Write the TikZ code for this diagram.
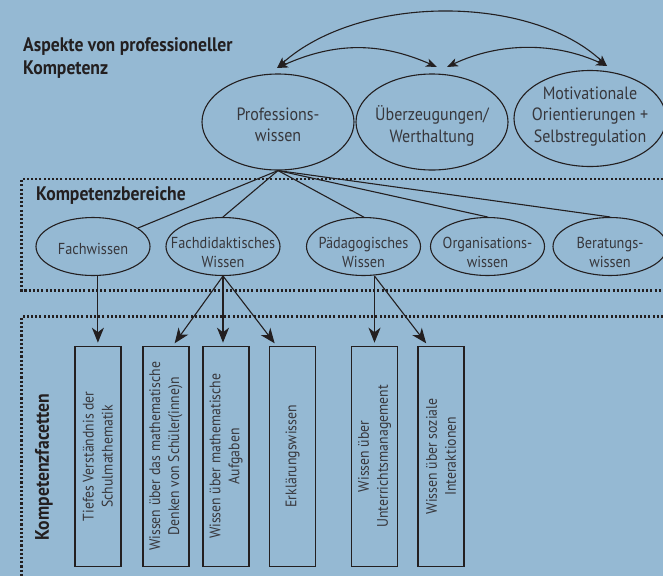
\documentclass[tikz,border=0pt]{standalone}
\usepackage{fontspec}
\setmainfont[FakeStretch=0.9]{PT Sans}
\usetikzlibrary{shapes.geometric,arrows.meta,calc}
\definecolor{bg}{RGB}{149,185,211}
\definecolor{ink}{RGB}{35,31,32}
\definecolor{txt}{RGB}{55,55,60}
\begin{document}
\begin{tikzpicture}[x=1pt,y=-1pt,
  ell/.style={draw=ink, line width=1.1pt, ellipse, inner sep=0pt},
  bigell/.style={ell, minimum width=152pt, minimum height=96pt},
  smell/.style={ell, minimum width=114pt, minimum height=58pt},
  bigtxt/.style={font=\fontsize{17.8}{21.5}\selectfont, text=txt, align=center, inner sep=0pt},
  smtxt/.style={font=\fontsize{15.9}{19}\selectfont, text=txt, align=center, inner sep=0pt},
  facet/.style={draw=ink, line width=1.2pt, minimum width=46pt, minimum height=220pt, inner sep=0pt},
  facettxt/.style={rotate=90, font=\fontsize{15.3}{19}\selectfont, text=txt, align=center, inner sep=0pt},
  head/.style={font=\bfseries\fontsize{19.6}{23.3}\selectfont, text=ink, inner sep=0pt, align=left},
  link/.style={draw=ink, line width=1.1pt},
  arr/.style={link, shorten >=3pt, -{Stealth[length=15pt,width=12pt,inset=4.5pt]}},
  harr/.style={link, {Stealth[length=11pt,width=8.5pt,inset=3pt]}-{Stealth[length=11pt,width=8.5pt,inset=3pt]}},
  dotline/.style={draw=ink, line width=2.1pt, dash pattern=on 2.1pt off 2.1pt}
]
\fill[bg] (0,0) rectangle (663,576);
\useasboundingbox (0,0) rectangle (663,576);

% headings
\node[head, anchor=north west] (title) at (23,37.5) {Aspekte von professioneller\\Kompetenz};
\node[head, anchor=west] (kb) at (36,195) {Kompetenzbereiche};
\node[head, rotate=90] (kf) at (44,467) {Kompetenzfacetten};

% top ellipses
\node[bigell] (pw) at (278,122) {};
\node[bigtxt] (pwt) at (278,125) {Professions-\\wissen};
\node[bigell] (uw) at (432,122) {};
\node[bigtxt] (uwt) at (432,126) {Überzeugungen/\\Werthaltung};
\node[bigell] (mo) at (590,118.5) {};
\node[bigtxt] (mot) at (590,116.5) {Motivationale\\Orientierungen +\\Selbstregulation};

% top arrows
\coordinate (A) at (277,68);
\coordinate (B) at (437,67);
\coordinate (C) at (447,67);
\coordinate (D) at (607,66);
\draw[harr] (A) .. controls (360,-6) and (530,-6) .. (D);
\draw[harr] (A) .. controls (335,42) and (380,42) .. (B);
\draw[harr] (C) .. controls (500,42) and (555,42) .. (D);

% dotted frames
\draw[dotline] (663,179) -- (21.5,179) -- (21.5,290.5) -- (663,290.5);
\draw[dotline] (663,316.5) -- (21.5,316.5) -- (21.5,576);

% middle ellipses
\node[smell] (fw) at (93,246.5) {};
\node[smtxt] (fwt) at (93,248.5) {Fachwissen};
\node[smell] (fd) at (223,246.5) {};
\node[smtxt] (fdt) at (223,252) {Fachdidaktisches\\Wissen};
\node[smell] (pd) at (363.5,246.5) {};
\node[smtxt] (pdt) at (363.5,252) {Pädagogisches\\Wissen};
\node[smell] (og) at (487.5,246.5) {};
\node[smtxt] (ogt) at (487.5,252) {Organisations-\\wissen};
\node[smell] (bw) at (610,246.5) {};
\node[smtxt] (bwt) at (610,252) {Beratungs-\\wissen};

% links from Professionswissen
\draw[link] (pw.south) -- (fw);
\draw[link] (pw.south) -- (fd.north);
\draw[link] (pw.south) -- (pd.north);
\draw[link] (pw.south) -- (og.north);
\draw[link] (pw.south) -- (bw.north);

% facet boxes
\node[facet] (r1) at (97.9,456.3) {};
\node[facettxt] (r1t) at (97.9,456.3) {Tiefes Verständnis der\\Schulmathematik};
\node[facet] (r2) at (165.9,456.3) {};
\node[facettxt] (r2t) at (165.9,456.3) {Wissen über das mathematische\\Denken von Schüler(inne)n};
\node[facet] (r3) at (226,456.3) {};
\node[facettxt] (r3t) at (226,456.3) {Wissen über mathematische\\Aufgaben};
\node[facet] (r4) at (292.5,456.3) {};
\node[facettxt] (r4t) at (292.5,456.3) {Erklärungswissen};
\node[facet] (r5) at (374.5,456.3) {};
\node[facettxt] (r5t) at (374.5,456.3) {Wissen über\\Unterrichtsmanagement};
\node[facet] (r6) at (441,456.3) {};
\node[facettxt] (r6t) at (441,456.3) {Wissen über soziale\\Interaktionen};

% arrows to facets
\draw[arr] (r1.north |- fw.south) -- (r1.north);
\draw[arr] (fd.south) -- ([xshift=7pt]r2.north);
\draw[arr] (fd.south) -- (fd.south |- r3.north);
\draw[arr] (fd.south) -- ([xshift=-16pt]r4.north);
\draw[arr] (r5.north |- pd.south) -- (r5.north);
\draw[arr] (r5.north |- pd.south) -- ([xshift=-13pt]r6.north);
\end{tikzpicture}
\end{document}
